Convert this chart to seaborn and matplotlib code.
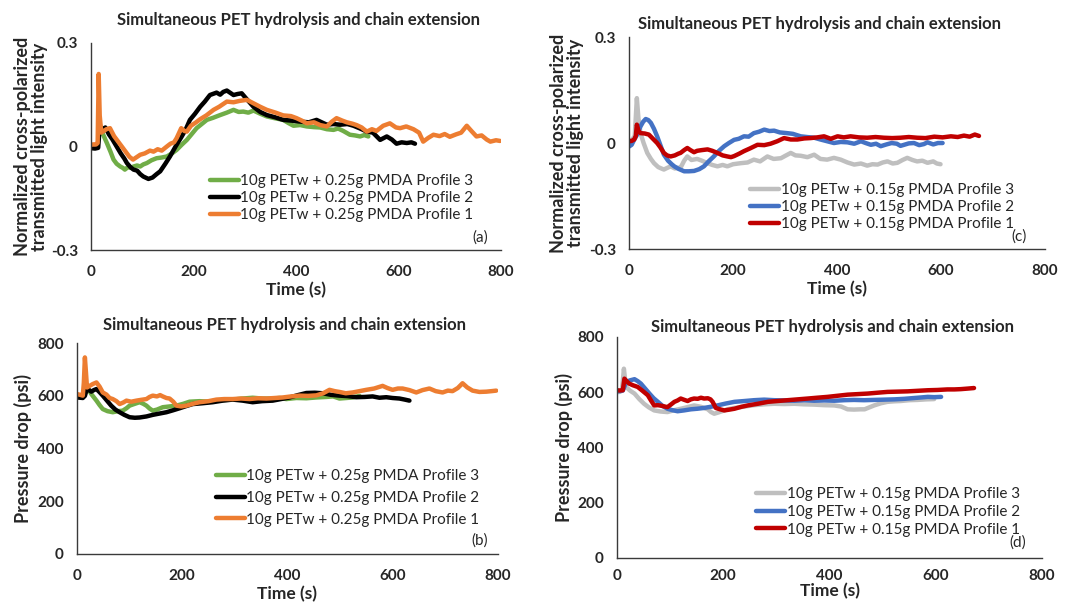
import pandas as pd
import matplotlib.pyplot as plt
import seaborn as sns

# ---- data: (time s, value) ----
# (a) 0.25g PMDA, light intensity
a_p1 = [(0, 0.005), (5, 0.006), (10, 0.006), (13, 0.01), (15, 0.21), (17, 0.09), (20, 0.04), (25, 0.045), (30, 0.05),
        (37, 0.053), (45, 0.03), (55, 0.01), (65, -0.01), (75, -0.03), (82, -0.038), (90, -0.03), (96, -0.024),
        (105, -0.02), (115, -0.012), (122, -0.015), (130, -0.008), (138, -0.012), (148, 0.0), (155, 0.008),
        (162, 0.012), (167, 0.024), (172, 0.04), (176, 0.053), (182, 0.045), (187, 0.043), (195, 0.06), (205, 0.07),
        (213, 0.079), (225, 0.09), (239, 0.106), (250, 0.115), (265, 0.13), (278, 0.128), (290, 0.132), (304, 0.135),
        (317, 0.125), (330, 0.115), (343, 0.106), (360, 0.098), (375, 0.09), (390, 0.088), (401, 0.082), (411, 0.075),
        (421, 0.067), (435, 0.07), (447, 0.062), (460, 0.058), (470, 0.072), (479, 0.082), (490, 0.075), (499, 0.07),
        (510, 0.066), (518, 0.062), (528, 0.055), (538, 0.043), (548, 0.05), (557, 0.045), (570, 0.06), (583, 0.067),
        (595, 0.055), (603, 0.053), (615, 0.058), (629, 0.05), (640, 0.04), (648, 0.014), (658, 0.025), (668, 0.034),
        (680, 0.03), (690, 0.036), (700, 0.028), (712, 0.035), (722, 0.04), (733, 0.06), (742, 0.045), (752, 0.029),
        (762, 0.032), (772, 0.02), (779, 0.014), (790, 0.018), (798, 0.016)]
a_p2 = [(0, -0.005), (8, -0.006), (14, -0.004), (17, 0.058), (22, 0.05), (28, 0.055), (35, 0.035), (42, 0.02),
        (50, 0.0), (58, -0.02), (65, -0.035), (70, -0.048), (77, -0.06), (83, -0.067), (90, -0.07), (96, -0.08),
        (102, -0.087), (112, -0.094), (120, -0.09), (128, -0.08), (135, -0.072), (145, -0.05), (154, -0.029),
        (165, 0.0), (177, 0.029), (185, 0.05), (193, 0.077), (203, 0.095), (213, 0.115), (222, 0.13), (232, 0.149),
        (245, 0.156), (252, 0.15), (258, 0.158), (265, 0.162), (272, 0.155), (278, 0.149), (286, 0.152), (294, 0.154),
        (305, 0.135), (317, 0.115), (330, 0.1), (343, 0.091), (358, 0.085), (375, 0.077), (390, 0.075), (408, 0.072),
        (425, 0.07), (440, 0.077), (450, 0.07), (460, 0.063), (473, 0.065), (486, 0.063), (500, 0.065), (512, 0.06),
        (525, 0.052), (538, 0.043), (550, 0.04), (564, 0.019), (577, 0.029), (587, 0.02), (596, 0.008), (606, 0.012),
        (616, 0.01), (625, 0.012), (632, 0.008)]
a_p3 = [(17, 0.065), (22, 0.04), (31, 0.01), (38, -0.015), (44, -0.038), (50, -0.05), (57, -0.058), (62, -0.062),
        (66, -0.067), (72, -0.06), (78, -0.062), (83, -0.058), (90, -0.055), (96, -0.058), (102, -0.052), (109, -0.048),
        (118, -0.04), (128, -0.034), (138, -0.032), (148, -0.029), (158, -0.02), (167, -0.01), (177, 0.005),
        (187, 0.019), (196, 0.035), (206, 0.053), (216, 0.065), (226, 0.077), (238, 0.083), (252, 0.091), (265, 0.098),
        (278, 0.106), (288, 0.1), (297, 0.101), (307, 0.098), (317, 0.104), (330, 0.095), (343, 0.087), (358, 0.082),
        (375, 0.077), (385, 0.068), (395, 0.06), (408, 0.062), (421, 0.058), (435, 0.056), (447, 0.055), (460, 0.05),
        (473, 0.048), (482, 0.052), (492, 0.045), (505, 0.034), (515, 0.032), (525, 0.029), (533, 0.033), (541, 0.029)]

# (c) 0.15g PMDA, light intensity
c_p1 = [(0, 0.005), (5, 0.006), (10, 0.01), (13, 0.02), (15, 0.052), (18, 0.035), (22, 0.028), (30, 0.027), (38, 0.024),
        (46, 0.012), (54, 0.0), (60, -0.012), (67, -0.028), (73, -0.035), (80, -0.038), (88, -0.035), (95, -0.03),
        (99, -0.028), (106, -0.02), (112, -0.014), (118, -0.02), (125, -0.026), (131, -0.022), (140, -0.02),
        (151, -0.018), (160, -0.022), (170, -0.028), (180, -0.035), (189, -0.038), (196, -0.04), (202, -0.037),
        (212, -0.03), (221, -0.023), (233, -0.015), (247, -0.005), (260, -0.006), (272, -0.002), (285, 0.005),
        (298, 0.014), (311, 0.01), (324, 0.01), (337, 0.013), (349, 0.014), (362, 0.016), (375, 0.019), (388, 0.012),
        (401, 0.019), (413, 0.016), (426, 0.019), (442, 0.016), (458, 0.015), (474, 0.017), (490, 0.015), (506, 0.014),
        (522, 0.015), (538, 0.017), (554, 0.015), (570, 0.014), (587, 0.018), (603, 0.016), (619, 0.019), (632, 0.017),
        (644, 0.021), (655, 0.018), (665, 0.024), (673, 0.02)]
c_p2 = [(0, -0.01), (5, -0.005), (10, 0.01), (16, 0.025), (22, 0.047), (27, 0.06), (32, 0.068), (37, 0.065), (42, 0.057),
        (48, 0.04), (54, 0.019), (60, -0.005), (67, -0.033), (75, -0.05), (82, -0.06), (87, -0.066), (95, -0.073),
        (106, -0.08), (115, -0.08), (125, -0.079), (135, -0.074), (144, -0.066), (153, -0.052), (163, -0.038),
        (173, -0.022), (183, -0.009), (192, 0.0), (202, 0.009), (211, 0.012), (221, 0.019), (230, 0.018), (240, 0.028),
        (250, 0.032), (260, 0.038), (270, 0.034), (279, 0.035), (290, 0.03), (304, 0.028), (315, 0.026), (330, 0.019),
        (342, 0.017), (356, 0.015), (368, 0.01), (381, 0.005), (394, 0.0), (407, 0.003), (420, 0.002), (433, -0.002),
        (446, 0.005), (455, 0.0), (465, -0.005), (475, -0.002), (484, -0.009), (495, -0.004), (505, 0.0), (515, -0.002),
        (522, -0.008), (529, -0.005), (538, -0.001), (548, 0.0), (558, -0.006), (567, -0.003), (574, 0.002),
        (585, -0.004), (594, 0.0), (603, 0.0)]
c_p3 = [(0, 0.005), (6, 0.01), (11, 0.02), (15, 0.127), (18, 0.07), (22, 0.028), (28, 0.0), (35, -0.028), (42, -0.045),
        (48, -0.057), (56, -0.068), (62, -0.072), (67, -0.075), (74, -0.07), (80, -0.066), (88, -0.072), (95, -0.07),
        (99, -0.07), (106, -0.05), (112, -0.038), (120, -0.048), (131, -0.045), (140, -0.05), (151, -0.057),
        (160, -0.062), (170, -0.066), (180, -0.062), (189, -0.066), (200, -0.06), (215, -0.057), (228, -0.055),
        (240, -0.047), (252, -0.052), (266, -0.038), (278, -0.045), (292, -0.043), (302, -0.035), (311, -0.028),
        (320, -0.035), (330, -0.036), (343, -0.04), (356, -0.033), (368, -0.045), (381, -0.047), (394, -0.042),
        (407, -0.047), (420, -0.055), (433, -0.061), (446, -0.058), (458, -0.064), (468, -0.06), (478, -0.061),
        (488, -0.055), (497, -0.052), (507, -0.058), (516, -0.056), (526, -0.048), (535, -0.042), (545, -0.048),
        (554, -0.052), (564, -0.05), (574, -0.056), (585, -0.052), (592, -0.058), (599, -0.06)]

# (b) 0.25g PMDA, pressure drop
b_p1 = [(0, 607), (6, 604), (11, 601), (13, 650), (15, 746), (17, 690), (19, 632), (24, 638), (30, 645), (37, 651),
        (43, 635), (49, 613), (56, 605), (62, 592), (68, 588), (75, 580), (81, 569), (88, 575), (94, 582), (103, 578),
        (113, 582), (122, 585), (132, 588), (138, 596), (144, 601), (152, 598), (158, 603), (163, 598), (170, 592),
        (176, 590), (183, 578), (189, 563), (198, 560), (208, 563), (220, 570), (233, 576), (250, 580), (265, 586),
        (280, 588), (296, 588), (312, 590), (328, 588), (344, 591), (360, 590), (376, 592), (391, 594), (407, 598),
        (423, 601), (439, 600), (455, 602), (468, 610), (480, 623), (490, 618), (499, 615), (511, 610), (524, 613),
        (537, 618), (550, 623), (565, 628), (581, 638), (590, 630), (600, 623), (610, 628), (619, 628), (632, 622),
        (645, 613), (657, 622), (670, 628), (682, 618), (695, 613), (705, 620), (714, 618), (724, 630), (733, 648),
        (742, 632), (752, 620), (765, 615), (778, 616), (788, 618), (797, 620)]
b_p2 = [(0, 594), (6, 593), (11, 592), (15, 600), (19, 628), (23, 622), (27, 616), (32, 622), (37, 626), (43, 614),
        (49, 601), (57, 582), (65, 563), (73, 548), (81, 538), (90, 528), (100, 519), (110, 517), (119, 518),
        (132, 522), (144, 528), (157, 533), (170, 538), (182, 545), (195, 553), (207, 561), (220, 569), (238, 572),
        (258, 576), (277, 582), (296, 586), (315, 582), (334, 576), (352, 580), (372, 582), (388, 588), (404, 594),
        (420, 603), (436, 611), (452, 612), (467, 610), (483, 604), (499, 601), (515, 599), (531, 595), (547, 596),
        (562, 598), (575, 593), (588, 595), (600, 592), (613, 590), (623, 586), (632, 582)]
b_p3 = [(19, 620), (21, 626), (28, 605), (37, 582), (43, 565), (49, 550), (58, 542), (68, 538), (78, 542), (87, 544),
        (94, 553), (100, 563), (110, 570), (119, 576), (126, 570), (132, 563), (138, 552), (144, 544), (152, 548),
        (163, 557), (176, 560), (189, 563), (202, 570), (214, 578), (233, 580), (252, 578), (274, 584), (296, 586),
        (315, 590), (334, 593), (352, 590), (372, 590), (385, 592), (398, 588), (417, 592), (436, 591), (455, 594),
        (474, 596), (487, 598), (499, 590), (512, 592), (524, 594), (537, 600)]

# (d) 0.15g PMDA, pressure drop
d_p1 = [(0, 607), (5, 606), (11, 607), (14, 649), (18, 640), (23, 631), (30, 625), (39, 619), (48, 605), (58, 589),
        (64, 570), (70, 552), (77, 553), (83, 551), (90, 548), (95, 546), (102, 556), (108, 565), (114, 570),
        (120, 577), (127, 572), (133, 568), (139, 574), (145, 577), (152, 576), (158, 580), (164, 577), (171, 578),
        (176, 574), (180, 565), (186, 543), (194, 538), (202, 534), (212, 537), (221, 540), (234, 547), (246, 552),
        (265, 558), (284, 565), (302, 568), (321, 571), (340, 574), (359, 577), (377, 580), (396, 583), (415, 587),
        (434, 591), (453, 593), (472, 595), (490, 598), (509, 601), (528, 602), (547, 603), (566, 605), (585, 607),
        (603, 608), (622, 610), (635, 610), (647, 611), (660, 613), (672, 615)]
d_p2 = [(0, 603), (6, 604), (11, 606), (14, 620), (17, 637), (25, 643), (33, 647), (39, 640), (45, 631), (53, 613),
        (61, 595), (69, 578), (77, 565), (86, 550), (95, 540), (104, 535), (114, 531), (126, 534), (139, 538),
        (151, 540), (164, 543), (176, 547), (189, 552), (205, 559), (221, 565), (240, 568), (258, 571), (277, 573),
        (296, 571), (315, 570), (334, 569), (352, 571), (371, 569), (390, 570), (409, 569), (428, 571), (446, 572),
        (465, 571), (484, 572), (503, 573), (522, 574), (541, 576), (560, 579), (573, 581), (585, 583), (597, 582),
        (610, 583)]
d_p3 = [(0, 600), (5, 601), (9, 605), (11, 640), (13, 685), (15, 650), (17, 619), (25, 605), (33, 595), (42, 575),
        (51, 558), (60, 545), (70, 534), (82, 530), (95, 528), (108, 535), (120, 540), (133, 546), (145, 552),
        (158, 547), (171, 538), (177, 528), (183, 522), (190, 526), (196, 530), (208, 538), (221, 543), (240, 548),
        (258, 553), (277, 556), (296, 558), (315, 557), (334, 558), (352, 556), (371, 555), (390, 553), (409, 552),
        (422, 548), (434, 538), (446, 537), (458, 538), (466, 538), (475, 545), (484, 552), (497, 560), (509, 565),
        (522, 567), (534, 568), (550, 571), (566, 572), (582, 574), (597, 575)]

title = 'Simultaneous PET hydrolysis and chain extension'
lbl_25 = ['10g PETw + 0.25g PMDA Profile 3', '10g PETw + 0.25g PMDA Profile 2', '10g PETw + 0.25g PMDA Profile 1']
lbl_15 = ['10g PETw + 0.15g PMDA Profile 3', '10g PETw + 0.15g PMDA Profile 2', '10g PETw + 0.15g PMDA Profile 1']
col_25 = ['#70AD47', '#000000', '#ED7D31']
col_15 = ['#BFBFBF', '#4472C4', '#C00000']

sns.set_style("white")
plt.rcParams['font.family'] = ['Lato', 'DejaVu Sans']


def to_frame(series, labels):
    rows = []
    for pts, lab in zip(series, labels):
        for t, v in pts:
            rows.append({'Time': t, 'Value': v, 'Run': lab})
    return pd.DataFrame(rows)


def draw_panel(ax, series, labels, colors, kind, tag, leg, title_pos, tag_pos, ylab_x, xpad, tpad):
    df = to_frame(series, labels)
    sns.lineplot(data=df, x='Time', y='Value', hue='Run', hue_order=labels,
                 palette=colors, estimator=None, sort=False, lw=3.2, ax=ax)
    ax.set_xlim(0, 800)
    ax.set_xticks([0, 200, 400, 600, 800])
    ax.set_xticks([100, 300, 500, 700], minor=True)
    if kind == 'light':
        ax.set_ylim(-0.3, 0.3)
        ax.set_yticks([-0.3, 0, 0.3], labels=['-0.3', '0', '0.3'])
        ax.set_yticks([-0.15, 0.15], minor=True)
        ax.set_ylabel('Normalized cross-polarized\ntransmitted light intensity',
                      fontsize=13, fontweight='bold', linespacing=1.0)
    else:
        ax.set_ylim(0, 800)
        ax.set_yticks([0, 200, 400, 600, 800])
        ax.set_yticks([100, 300, 500, 700], minor=True)
        ax.set_ylabel('Pressure drop (psi)', fontsize=13, fontweight='bold')
    ax.yaxis.set_label_coords(ylab_x, 0.5)
    ax.set_xlabel('Time (s)', fontsize=12.5, fontweight='bold', labelpad=xpad)
    for s in ['top', 'right']:
        ax.spines[s].set_visible(False)
    for s in ['left', 'bottom']:
        ax.spines[s].set_color('#3a3a3a')
        ax.spines[s].set_linewidth(1.0)
    ax.tick_params(axis='x', which='both', direction='in', length=4, width=1, color='#3a3a3a', pad=tpad)
    ax.tick_params(axis='y', which='both', direction='out', length=3.5, width=1, color='#3a3a3a', pad=6)
    for t in ax.get_xticklabels() + ax.get_yticklabels():
        t.set_fontsize(11)
        t.set_fontweight('bold')
    ax.text(title_pos[0], title_pos[1], title, transform=ax.transAxes, ha='center', va='center',
            fontsize=12, fontweight='bold')
    ax.text(tag_pos[0], tag_pos[1], tag, transform=ax.transAxes, ha='center', va='center', fontsize=11)
    ax.legend(loc='center left', bbox_to_anchor=(leg[0], leg[1]), frameon=False, fontsize=11,
              borderpad=0, borderaxespad=0, handlelength=1.9, handletextpad=0.1, labelspacing=leg[2])


fig = plt.figure(figsize=(10.68, 6.04), dpi=100)
ax_a = fig.add_axes([0.0852, 0.586, 0.384, 0.343])
ax_c = fig.add_axes([0.589, 0.5877, 0.3895, 0.351])
ax_b = fig.add_axes([0.0721, 0.0828, 0.394, 0.349])
ax_d = fig.add_axes([0.5777, 0.0762, 0.398, 0.366])

draw_panel(ax_a, [a_p3, a_p2, a_p1], lbl_25, col_25, 'light', '(a)', (0.29, 0.251, 0.2),
           (0.507, 1.111), (0.949, 0.058), -0.105, 2, 11)
draw_panel(ax_c, [c_p3, c_p2, c_p1], lbl_15, col_15, 'light', '(c)', (0.291, 0.198, 0.2),
           (0.459, 1.061), (0.9375, 0.057), -0.108, 2, 11)
draw_panel(ax_b, [b_p3, b_p2, b_p1], lbl_25, col_25, 'pressure', '(b)', (0.33, 0.265, 0.5),
           (0.494, 1.085), (0.957, 0.066), -0.107, 2, 11)
draw_panel(ax_d, [d_p3, d_p2, d_p1], lbl_15, col_15, 'pressure', '(d)', (0.327, 0.208, 0.25),
           (0.506, 1.045), (0.944, 0.072), -0.104, 0, 8)

plt.savefig('out.png', dpi=100)
